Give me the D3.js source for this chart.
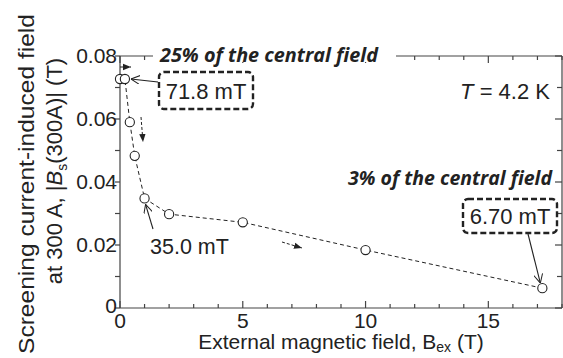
<!DOCTYPE html>
<html>
<head>
<meta charset="utf-8">
<script src="https://cdn.jsdelivr.net/npm/d3@7"></script>
<style>
  body { margin: 0; background: #fff; }
  svg { display: block; font-family: "Liberation Sans", Arial, sans-serif; }
</style>
</head>
<body>
<div id="chart"></div>
<script>
// data
var fieldT = [0, 0.2, 0.4, 0.6, 1, 2, 5, 10, 17.2];
var screenT = [0.0727, 0.0727, 0.059, 0.0483, 0.0348, 0.0298, 0.0272, 0.0184, 0.0063];
var xTicks = [0, 5, 10, 15];
var yTicks = [0, 0.02, 0.04, 0.06, 0.08];
var yTickLabels = ["0", "0.02", "0.04", "0.06", "0.08"];

var W = 563, H = 358;
var ink = "#222";

var svg = d3.select("#chart").append("svg")
    .attr("width", W).attr("height", H);

var x = d3.scaleLinear().domain([0, 18]).range([120, 562]);
var y = d3.scaleLinear().domain([0, 0.08]).range([308, 56]);

var defs = svg.append("defs");
defs.append("marker").attr("id", "open")
    .attr("viewBox", "0 0 10 10").attr("refX", 10).attr("refY", 5)
    .attr("markerWidth", 9).attr("markerHeight", 9).attr("markerUnits", "userSpaceOnUse")
    .attr("orient", "auto")
  .append("path").attr("d", "M0,0 L10,5 L0,10")
    .attr("fill", "none").attr("stroke", ink).attr("stroke-width", 1.1);
defs.append("marker").attr("id", "solid")
    .attr("viewBox", "0 0 10 10").attr("refX", 10).attr("refY", 5)
    .attr("markerWidth", 8).attr("markerHeight", 8).attr("markerUnits", "userSpaceOnUse")
    .attr("orient", "auto")
  .append("path").attr("d", "M0,1 L10,5 L0,9 Z").attr("fill", ink);

// frame axes
var minorX = d3.range(0, 19, 1);
var minorY = d3.range(0, 0.0801, 0.01);

var axes = svg.append("g").attr("stroke", "#444").attr("stroke-width", 1.2);
axes.append("line").attr("x1", x(0)).attr("x2", x(18)).attr("y1", y(0)).attr("y2", y(0));
axes.append("line").attr("x1", x(0)).attr("x2", x(0)).attr("y1", y(0)).attr("y2", y(0.08));
axes.append("line").attr("x1", x(18)).attr("x2", x(18)).attr("y1", y(0)).attr("y2", y(0.08));
axes.append("line").attr("x1", x(0)).attr("x2", x(18)).attr("y1", y(0.08)).attr("y2", y(0.08));

function isMajorX(d) { return d % 5 === 0; }
function isMajorY(d) { return Math.abs(Math.round(d * 100) % 2) === 0; }

axes.selectAll(".tb").data(minorX).join("line")
    .attr("x1", d => x(d)).attr("x2", d => x(d))
    .attr("y1", y(0)).attr("y2", d => y(0) - (isMajorX(d) ? 7 : 4));
axes.selectAll(".tt").data(minorX).join("line")
    .attr("x1", d => x(d)).attr("x2", d => x(d))
    .attr("y1", y(0.08)).attr("y2", d => y(0.08) + (isMajorX(d) ? 7 : 4));
axes.selectAll(".tl").data(minorY).join("line")
    .attr("y1", d => y(d)).attr("y2", d => y(d))
    .attr("x1", x(0) - 5).attr("x2", x(0));
axes.selectAll(".tr").data(minorY).join("line")
    .attr("y1", d => y(d)).attr("y2", d => y(d))
    .attr("x1", x(18)).attr("x2", d => x(18) - (isMajorY(d) ? 7 : 5));

// tick labels
svg.append("g").selectAll("text").data(xTicks).join("text")
    .attr("x", d => x(d)).attr("y", y(0) + 20)
    .attr("text-anchor", "middle").attr("font-size", 21).attr("fill", ink)
    .text(d => d);
svg.append("g").selectAll("text").data(yTicks).join("text")
    .attr("x", x(0) - 3).attr("y", (d, i) => y(d) + (i === 0 ? 5 : 7))
    .attr("text-anchor", "end").attr("font-size", 21).attr("fill", ink)
    .text((d, i) => yTickLabels[i]);

// axis titles
var xt = svg.append("text").attr("x", 341).attr("y", 349)
    .attr("text-anchor", "middle").attr("font-size", 21).attr("fill", ink);
xt.append("tspan").text("External magnetic field, B");
xt.append("tspan").attr("font-size", 14).attr("dy", 3).text("ex");
xt.append("tspan").attr("dy", -3).text(" (T)");

var yt = svg.append("g").attr("transform", "translate(34,184) rotate(-90)");
yt.append("text").attr("text-anchor", "middle").attr("font-size", 22).attr("fill", ink)
    .attr("textLength", 340).attr("lengthAdjust", "spacingAndGlyphs")
    .text("Screening current-induced field");
var yt2 = yt.append("text").attr("x", 13).attr("y", 28).attr("text-anchor", "middle")
    .attr("font-size", 22).attr("fill", ink);
yt2.append("tspan").text("at 300 A, |");
yt2.append("tspan").attr("font-style", "italic").text("B");
yt2.append("tspan").attr("font-size", 14).attr("dy", 5).text("s");
yt2.append("tspan").attr("dy", -5).text("(300A)| (T)");

// data line and points
var line = d3.line().x((d, i) => x(fieldT[i])).y(d => y(d));
svg.append("path").datum(screenT)
    .attr("d", line).attr("fill", "none")
    .attr("stroke", ink).attr("stroke-width", 1).attr("stroke-dasharray", "4,3");
svg.append("g").selectAll("circle").data(screenT).join("circle")
    .attr("cx", (d, i) => x(fieldT[i])).attr("cy", d => y(d)).attr("r", 4.6)
    .attr("fill", "#fff").attr("stroke", ink).attr("stroke-width", 1.1);

// small direction arrows
var dirArrows = [[120, 67, 131, 67], [141, 117, 143, 142], [282, 242, 302, 248]];
svg.append("g").selectAll("line").data(dirArrows).join("line")
    .attr("x1", d => d[0]).attr("y1", d => d[1]).attr("x2", d => d[2]).attr("y2", d => d[3])
    .attr("stroke", ink).attr("stroke-width", 1).attr("stroke-dasharray", "3,2")
    .attr("marker-end", "url(#solid)");

// percentage notes
var bold = '"Open Sans", "DejaVu Sans", sans-serif';
svg.append("rect").attr("x", 153).attr("y", 48).attr("width", 243).attr("height", 14).attr("fill", "#fff");
svg.append("text").attr("x", 160).attr("y", 62)
    .attr("font-family", bold).attr("font-weight", 700).attr("font-style", "italic")
    .attr("font-size", 20).attr("fill", ink).attr("textLength", 218).attr("lengthAdjust", "spacingAndGlyphs")
    .text("25% of the central field");
svg.append("text").attr("x", 552).attr("y", 185).attr("text-anchor", "end")
    .attr("font-family", bold).attr("font-weight", 700).attr("font-style", "italic")
    .attr("font-size", 19.5).attr("fill", ink)
    .text("3% of the central field");

svg.append("text").attr("x", 550).attr("y", 99).attr("text-anchor", "end")
    .attr("font-size", 22).attr("fill", ink)
    .call(t => { t.append("tspan").attr("font-style", "italic").text("T"); t.append("tspan").text(" = 4.2 K"); });

// value boxes
var boxes = [
  {x: 159, y: 72, w: 94, h: 37, label: "71.8 mT"},
  {x: 463, y: 199, w: 94, h: 34, label: "6.70 mT"}
];
svg.append("g").selectAll("rect").data(boxes).join("rect")
    .attr("x", d => d.x).attr("y", d => d.y).attr("width", d => d.w).attr("height", d => d.h)
    .attr("rx", 5).attr("fill", "#fff").attr("stroke", ink).attr("stroke-width", 2.4)
    .attr("stroke-dasharray", "6,3");
svg.append("g").selectAll("text").data(boxes).join("text")
    .attr("x", d => d.x + d.w / 2).attr("y", d => d.y + d.h / 2 + 8)
    .attr("text-anchor", "middle").attr("font-size", 22).attr("fill", ink)
    .text(d => d.label);

svg.append("text").attr("x", 150).attr("y", 254).attr("font-size", 21.5).attr("fill", ink).text("35.0 mT");

// pointers from labels to points
var pointers = [
  [158, 82, x(fieldT[1]) + 6, y(screenT[1])],
  [153, 229, x(fieldT[4]) + 1, y(screenT[4]) + 6],
  [528, 234, x(fieldT[8]) - 2, y(screenT[8]) - 5]
];
svg.append("g").selectAll("line").data(pointers).join("line")
    .attr("x1", d => d[0]).attr("y1", d => d[1]).attr("x2", d => d[2]).attr("y2", d => d[3])
    .attr("stroke", ink).attr("stroke-width", 1.1).attr("marker-end", "url(#open)");
</script>
</body>
</html>
